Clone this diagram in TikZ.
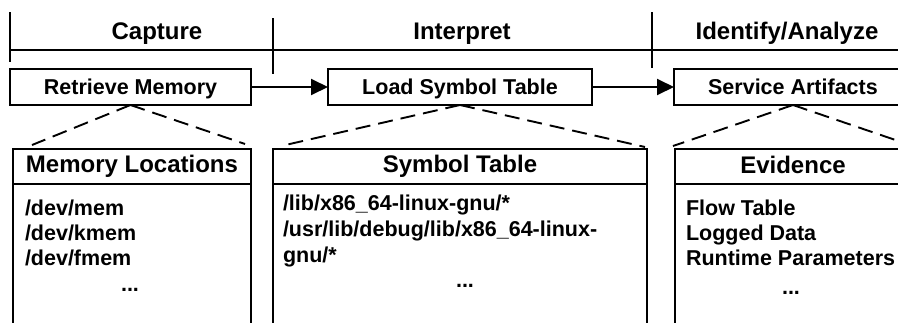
\documentclass[tikz,border=0pt]{standalone}
\usepackage{fontspec}
\setmainfont{Liberation Sans}
\usetikzlibrary{arrows.meta,calc}

\begin{document}
\begin{tikzpicture}[x=1pt,y=-1pt,
  every node/.style={inner sep=0pt, outer sep=0pt},
  phase/.style={font=\bfseries\fontsize{24}{28}\selectfont, anchor=base},
  tick/.style={line width=1.9pt},
  procbox/.style={draw, line width=1.9pt, minimum height=36pt,
    text height=15.4pt, text depth=0pt,
    font=\bfseries\fontsize{21.5}{24}\selectfont},
  panel/.style={draw, line width=1.9pt, anchor=north west},
  paneltitle/.style={font=\bfseries\fontsize{24}{28}\selectfont, anchor=base},
  panelrule/.style={line width=2.8pt},
  items/.style={font=\bfseries\fontsize{21.5}{25}\selectfont, align=left, anchor=base west},
  dots/.style={font=\bfseries\fontsize{21.5}{25}\selectfont, anchor=base},
  flow/.style={line width=1.9pt, -{Triangle[length=17pt,width=16pt]}},
  zoomline/.style={line width=1.9pt, dash pattern=on 15pt off 8pt}
]
\useasboundingbox (0,0) rectangle (898,322);
\clip (0,0) rectangle (898,322);

% phase headers and timeline
\node[phase] (hcap) at (157,39) {Capture};
\node[phase] (hint) at (462,39) {Interpret};
\node[phase] (hide) at (787,39) {Identify/Analyze};
\coordinate (tl0) at (10,50);
\coordinate (tl1) at (910,50);
\draw[tick] (tl0) -- (tl1);
\draw[tick] (10,12) -- (10,62);
\draw[tick] (273,18) -- (273,74);
\draw[tick] (652,12) -- (652,68);

% process steps
\node[procbox, minimum width=241pt] (retr) at (130.5,87) {Retrieve Memory};
\node[procbox, minimum width=264pt] (load) at (460,87) {Load Symbol Table};
\node[procbox, minimum width=238pt] (serv) at (793,87) {Service Artifacts};
\draw[flow] (retr.east) -- (load.west);
\draw[flow] (load.east) -- (serv.west);

% detail panels
\node[panel, minimum width=238pt, minimum height=200pt] (mem) at (13,149) {};
\node[panel, minimum width=374pt, minimum height=200pt] (sym) at (273,149) {};
\node[panel, minimum width=236pt, minimum height=200pt] (evid) at (675,149) {};

\foreach \p in {mem,sym,evid}
  \draw[panelrule] ($(\p.north west)+(0,35)$) -- ($(\p.north east)+(0,35)$);

\node[paneltitle] (memt) at (132,172.7) {Memory Locations};
\node[paneltitle] (symt) at (460,172.7) {Symbol Table};
\node[paneltitle] (evidt) at (793,173.5) {Evidence};

% item lists (anchored on the baseline of their last line)
\node[items] (memi) at (25,265) {/dev/mem\\/dev/kmem\\/dev/fmem};
\node[dots] (memd) at (130,291.5) {...};
\node[items, font=\bfseries\fontsize{21.5}{26}\selectfont] (symi) at (283,262)
  {/lib/x86\_64-linux-gnu/*\\/usr/lib/debug/lib/x86\_64-linux-\\gnu/*};
\node[dots] (symd) at (465,287) {...};
\node[items] (evidi) at (686,265) {Flow Table\\Logged Data\\Runtime Parameters};
\node[dots] (evidd) at (791,294) {...};

% zoom-in guides from each step to its panel
\draw[zoomline] (retr.south) -- ($(mem.north west)+(19,-4)$);
\draw[zoomline] (retr.south) -- ($(mem.north east)+(-6,-5)$);
\draw[zoomline] (load.south) -- ($(sym.north west)+(8,-3)$);
\draw[zoomline] (load.south) -- ($(sym.north east)+(-2,-2)$);
\draw[zoomline] (serv.south) -- ($(evid.north west)+(-2,-3)$);
\draw[zoomline] (serv.south) -- ($(evid.north east)+(2,-3)$);
\end{tikzpicture}
\end{document}
